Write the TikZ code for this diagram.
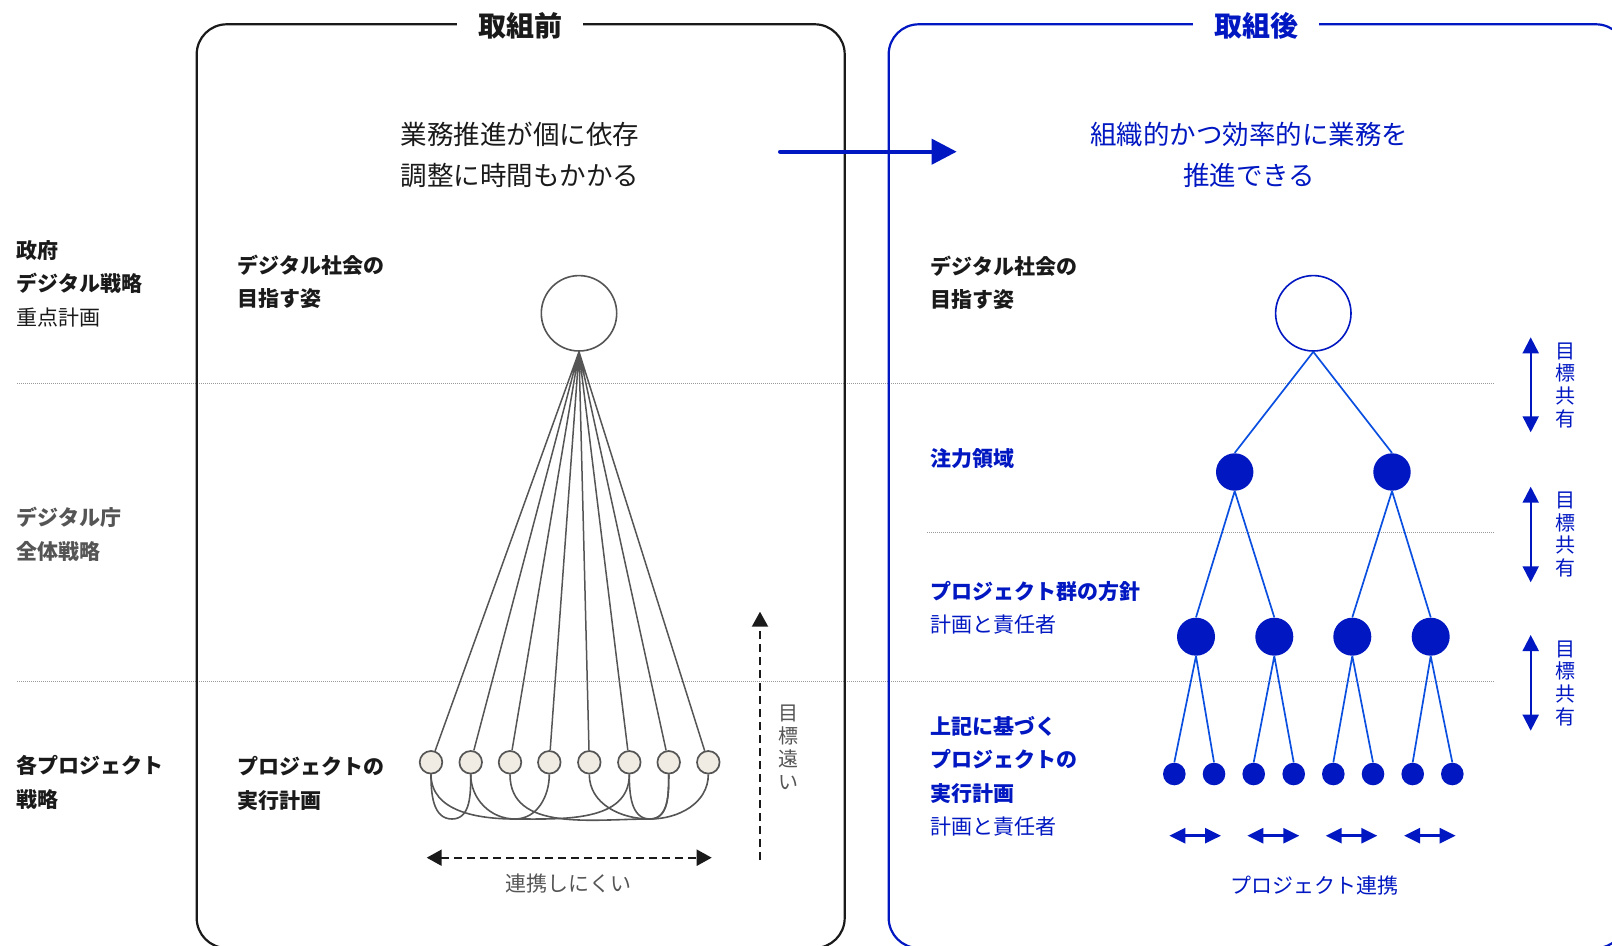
\documentclass[tikz,border=0pt]{standalone}
\usepackage{fontspec}
\setmainfont{Noto Sans CJK JP}
\usepackage{xcolor}
\usetikzlibrary{arrows.meta}
\definecolor{dablue}{HTML}{0017C1}
\definecolor{lnblue}{HTML}{0A4FE0}
\definecolor{ink}{HTML}{1A1A1A}
\definecolor{gry}{HTML}{555555}
\definecolor{cream}{HTML}{F0ECE4}
\definecolor{dotgray}{HTML}{9A9A9A}
\tikzset{
  fr/.style={line width=1.1pt,rounded corners=15pt},
  dotl/.style={dotgray,line width=0.5pt,dash pattern=on 0.5pt off 0.5pt},
  fan/.style={gry,line width=0.75pt},
  lnk/.style={gry,line width=0.8pt},
  pj/.style={circle,draw=gry,fill=cream,line width=0.85pt,minimum size=11.3pt,inner sep=0pt},
  goal/.style={circle,line width=0.8pt,fill=white,minimum size=37.7pt,inner sep=0pt},
  bdot/.style={circle,fill=dablue,inner sep=0pt},
  tr/.style={lnblue,line width=0.85pt},
  lbl/.style={anchor=west,align=left,inner sep=0pt,font=\fontsize{10.5}{16.75}\selectfont},
  lblb/.style={lbl,font=\fontsize{10.5}{16.75}\selectfont\bfseries},
  txt/.style={inner sep=0pt,font=\fontsize{10.5}{12}\selectfont},
  msg/.style={align=center,inner sep=0pt,font=\fontsize{13.25}{20.55}\selectfont},
  ttl/.style={fill=white,inner xsep=10.5pt,inner ysep=2pt,font=\fontsize{14}{16}\selectfont\bfseries},
  vtxt/.style={align=center,inner sep=0pt,font=\fontsize{10}{11.4}\selectfont},
  dsh/.style={ink,line width=1pt,dash pattern=on 4pt off 2.5pt},
  sh/.style={dablue,line width=1pt,{Triangle[length=8pt,width=8pt]}-{Triangle[length=8pt,width=8pt]}},
  cl/.style={dablue,line width=1.35pt,{Triangle[length=8pt,width=7.5pt]}-{Triangle[length=8pt,width=7.5pt]}}
}

\begin{document}
\begin{tikzpicture}[x=0.5pt,y=-0.5pt]
\useasboundingbox (0,0) rectangle (1612,946);
\clip (0,0) rectangle (1612,946);
% rows
\draw[dotl] (17,384) -- (1495,384);
\draw[dotl] (927,532.5) -- (1495,532.5);
\draw[dotl] (17,681) -- (1495,681);
% frames
\draw[fr,ink] (196.7,24.3) rectangle (844.7,948);
\draw[fr,dablue] (888.7,24.3) rectangle (1626,948);
\node[ttl,text=ink] (tA) at (520,26) {取組前};
\node[ttl,text=dablue] (tB) at (1256,26) {取組後};
\node[msg,ink] (mA) at (520,155) {業務推進が個に依存\\調整に時間もかかる};
\node[msg,dablue] (mB) at (1249,155) {組織的かつ効率的に業務を\\推進できる};
\coordinate (go0) at (780,151.7); \coordinate (go1) at (956.7,151.7);
\draw[dablue,line width=2pt,line cap=round,-{Triangle[length=12.5pt,width=12.5pt]}] (go0) -- (go1);

% left column
\node[lbl,ink] (gov) at (16,283.8) {{\bfseries 政府}\\{\bfseries デジタル戦略}\\重点計画};
\node[lblb,gry] (agc) at (16,534.5) {デジタル庁\\全体戦略};
\node[lblb,ink] (prj) at (16,782.5) {各プロジェクト\\戦略};

% before
\node[lblb,ink] (visA) at (237.5,282) {デジタル社会の\\目指す姿};
\node[lblb,ink] (plA) at (237.5,783.5) {プロジェクトの\\実行計画};
\node[goal,draw=gry] (vA) at (579,313.3) {};
\node[pj] (p1) at (431,762.3) {};
\node[pj] (p2) at (470.7,762.3) {};
\node[pj] (p3) at (510,762.3) {};
\node[pj] (p4) at (549.3,762.3) {};
\node[pj] (p5) at (589.3,762.3) {};
\node[pj] (p6) at (629.3,762.3) {};
\node[pj] (p7) at (668.7,762.3) {};
\node[pj] (p8) at (708.3,762.3) {};
\draw[fan] (vA.south) -- (p1) (vA.south) -- (p2) (vA.south) -- (p3) (vA.south) -- (p4)
  (vA.south) -- (p5) (vA.south) -- (p6) (vA.south) -- (p7) (vA.south) -- (p8);
\coordinate (lo1) at (452,819); \coordinate (lo2) at (515,819); \coordinate (lo3) at (650,819);
\draw[lnk] (p1.south) to[out=-90,in=180] (lo1) to[out=0,in=-90] (p2.south);
\draw[lnk] (p1.south) to[out=-90,in=180] (lo2) to[out=0,in=-90] (p4.south);
\draw[lnk] (p2.south) to[out=-90,in=180] (lo2) to[out=0,in=-90] (p6.south);
\draw[lnk] (p3.south) to[out=-90,in=180] (lo3) to[out=0,in=-90] (p7.south);
\draw[lnk] (p5.south) to[out=-90,in=180] (lo3) to[out=0,in=-90] (p8.south);
\draw[lnk] (p6.south) to[out=-90,in=180] (lo3) to[out=0,in=-90] (p7.south);
\coordinate (hl) at (426.7,857.7); \coordinate (hr) at (711.7,857.7);
\draw[dsh,{Triangle[length=7.5pt,width=8pt]}-{Triangle[length=7.5pt,width=8pt]}] (hl) -- (hr);
\node[txt,gry] (hard) at (568.3,883.3) {連携しにくい};
\coordinate (vl) at (760,860); \coordinate (vh) at (760,611.7);
\draw[dsh,-{Triangle[length=7.5pt,width=8pt]}] (vl) -- (vh);
\node[vtxt,gry] (far) at (788.3,747.5) {目\\標\\遠\\い};

% after
\node[lblb,ink] (visB) at (930,283) {デジタル社会の\\目指す姿};
\node[lblb,dablue] (foc) at (930,459) {注力領域};
\node[lbl,dablue] (grp) at (930,608) {{\bfseries プロジェクト群の方針}\\計画と責任者};
\node[lbl,dablue] (plB) at (930,776.4) {{\bfseries 上記に基づく}\\{\bfseries プロジェクトの}\\{\bfseries 実行計画}\\計画と責任者};
\node[goal,draw=dablue] (vB) at (1313.3,313.3) {};
\node[bdot,minimum size=18.7pt] (f1) at (1234.7,472) {};
\node[bdot,minimum size=18.7pt] (f2) at (1392,472) {};
\node[bdot,minimum size=19pt] (g1) at (1196,636.7) {};
\node[bdot,minimum size=19pt] (g2) at (1274.3,636.7) {};
\node[bdot,minimum size=19pt] (g3) at (1352.3,636.7) {};
\node[bdot,minimum size=19pt] (g4) at (1430.7,636.7) {};
\node[bdot,minimum size=11.3pt] (e1) at (1174.3,774) {};
\node[bdot,minimum size=11.3pt] (e2) at (1214,774) {};
\node[bdot,minimum size=11.3pt] (e3) at (1253.7,774) {};
\node[bdot,minimum size=11.3pt] (e4) at (1293.7,774) {};
\node[bdot,minimum size=11.3pt] (e5) at (1333.3,774) {};
\node[bdot,minimum size=11.3pt] (e6) at (1373,774) {};
\node[bdot,minimum size=11.3pt] (e7) at (1412.7,774) {};
\node[bdot,minimum size=11.3pt] (e8) at (1452.3,774) {};
\draw[tr] (vB.south) -- (f1.north) (vB.south) -- (f2.north)
  (f1.south) -- (g1.north) (f1.south) -- (g2.north) (f2.south) -- (g3.north) (f2.south) -- (g4.north)
  (g1.south) -- (e1.north) (g1.south) -- (e2.north) (g2.south) -- (e3.north) (g2.south) -- (e4.north)
  (g3.south) -- (e5.north) (g3.south) -- (e6.north) (g4.south) -- (e7.north) (g4.south) -- (e8.north);
\coordinate (k1) at (1169.3,835.7); \coordinate (k2) at (1221,835.7);
\coordinate (k3) at (1247.3,835.7); \coordinate (k4) at (1299.3,835.7);
\coordinate (k5) at (1325.7,835.7); \coordinate (k6) at (1377.3,835.7);
\coordinate (k7) at (1404,835.7); \coordinate (k8) at (1455.7,835.7);
\draw[cl] (k1) -- (k2); \draw[cl] (k3) -- (k4); \draw[cl] (k5) -- (k6); \draw[cl] (k7) -- (k8);
\node[txt,dablue] (coop) at (1314.5,886) {プロジェクト連携};
\coordinate (s1) at (1530.7,337.3); \coordinate (s2) at (1530.7,432.3);
\coordinate (s3) at (1530.7,486.7); \coordinate (s4) at (1530.7,582.3);
\coordinate (s5) at (1530.7,635); \coordinate (s6) at (1530.7,730.7);
\draw[sh] (s1) -- (s2); \draw[sh] (s3) -- (s4); \draw[sh] (s5) -- (s6);
\node[vtxt,dablue] (sh1) at (1565,385.4) {目\\標\\共\\有};
\node[vtxt,dablue] (sh2) at (1565,534.6) {目\\標\\共\\有};
\node[vtxt,dablue] (sh3) at (1565,683.3) {目\\標\\共\\有};
\end{tikzpicture}
\end{document}
